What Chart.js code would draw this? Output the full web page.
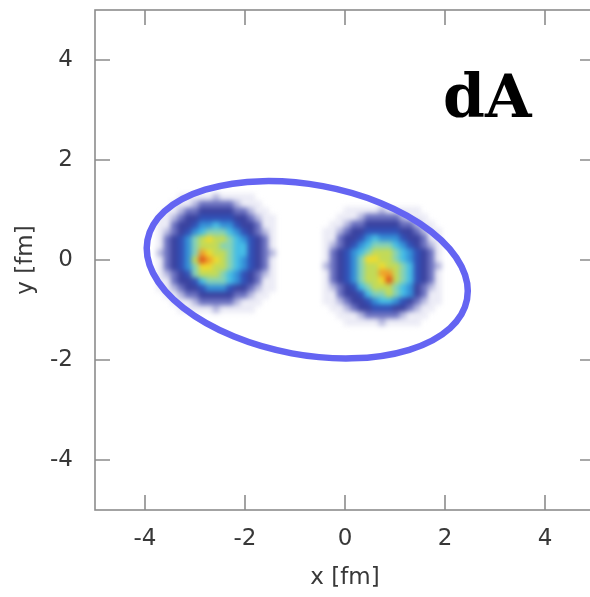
<!DOCTYPE html>
<html>
<head>
<meta charset="utf-8">
<script src="https://cdn.jsdelivr.net/npm/chart.js@4.4.1/dist/chart.umd.min.js"></script>
<style>
  html, body { margin: 0; padding: 0; background: #fff; overflow: hidden; }
</style>
</head>
<body>
<canvas id="myChart" width="600" height="597"></canvas>
<script>
var xTicks = [-4, -2, 0, 2, 4];
var yTicks = [-4, -2, 0, 2, 4];
var panelLabel = "dA";

// density histogram, bins of 0.14 fm
// levels: "." empty, 1..9 rising, Y yellow, O orange, R red
var binSize = 0.14;

var leftBlobCenter = [-2.58, 0.14];
var leftBlob = [
  "...11111211111...",
  "..1112333332111..",
  ".112334444433211.",
  "11234455555443211",
  "11344566766544311",
  "12345678887654321",
  "1345689Y998765431",
  "13456899988775431",
  "234568OY998775432",
  "134569ROY98765431",
  "134568YY998765431",
  "12345899987654321",
  "11344578887654311",
  "11234456665443211",
  ".112334444433211.",
  "..1112333332111..",
  "...11111211111..."
];

var rightBlobCenter = [0.74, -0.12];
var rightBlob = [
  "...11111211111...",
  "..1112333332111..",
  ".112334444433211.",
  "11234455555443211",
  "11344567666544311",
  "12345678887654321",
  "13456789998765431",
  "134568YY998765431",
  "23456899Y99875432",
  "13456899OO9875431",
  "13456899YR9875431",
  "12345789998764321",
  "11344578898764311",
  "11234456776543211",
  ".112344555443211.",
  "..1112333332111..",
  "...11111211111..."
];

// ellipse: centre x, centre y, semi-axes a, b (fm), tilt in degrees
var ellipseShape = [-0.755, -0.195, 3.25, 1.70, -10.5];

var levelColors = {
  "1": "#ececf6",
  "2": "#b6b8df",
  "3": "#6c72c0",
  "4": "#3a429f",
  "5": "#3150b6",
  "6": "#3490d8",
  "7": "#46bde6",
  "8": "#86d2b6",
  "9": "#c2da58",
  "Y": "#efdb2e",
  "O": "#efa02a",
  "R": "#df5418"
};

var axisGray = "#8c8c8c";
var textGray = "#383838";

var densityPlugin = {
  id: "density",
  beforeDatasetsDraw: function (chart) {
    var xs = chart.scales.x;
    var ys = chart.scales.y;
    var off = document.createElement("canvas");
    off.width = chart.width;
    off.height = chart.height;
    var oc = off.getContext("2d");

    [[leftBlob, leftBlobCenter], [rightBlob, rightBlobCenter]].forEach(function (b) {
      var grid = b[0];
      var c = b[1];
      var half = grid.length / 2;
      grid.forEach(function (row, r) {
        for (var i = 0; i < row.length; i++) {
          var lv = row[i];
          if (lv === ".") continue;
          var x0 = c[0] + (i - row.length / 2) * binSize;
          var y0 = c[1] + (half - r) * binSize;
          var px0 = xs.getPixelForValue(x0);
          var px1 = xs.getPixelForValue(x0 + binSize);
          var py0 = ys.getPixelForValue(y0);
          var py1 = ys.getPixelForValue(y0 - binSize);
          oc.fillStyle = levelColors[lv];
          oc.fillRect(px0, py0, px1 - px0 + 0.6, py1 - py0 + 0.6);
        }
      });
    });

    var ctx = chart.ctx;
    var a = chart.chartArea;
    ctx.save();
    ctx.beginPath();
    ctx.rect(a.left, a.top, a.right - a.left, a.bottom - a.top);
    ctx.clip();
    ctx.filter = "blur(2.4px)";
    ctx.drawImage(off, 0, 0, chart.width, chart.height);
    ctx.restore();
  },
  afterDatasetsDraw: function (chart) {
    var ctx = chart.ctx;
    var xs = chart.scales.x;
    var ys = chart.scales.y;
    var cx = xs.getPixelForValue(ellipseShape[0]);
    var cy = ys.getPixelForValue(ellipseShape[1]);
    var rx = xs.getPixelForValue(ellipseShape[0] + ellipseShape[2]) - cx;
    var ry = cy - ys.getPixelForValue(ellipseShape[1] + ellipseShape[3]);
    ctx.save();
    ctx.beginPath();
    ctx.ellipse(cx, cy, rx, ry, -ellipseShape[4] * Math.PI / 180, 0, 2 * Math.PI);
    ctx.lineWidth = 6.5;
    ctx.strokeStyle = "#6464f2";
    ctx.stroke();
    ctx.restore();
  }
};

// box with inward ticks on all four sides, plus the panel tag
var framePlugin = {
  id: "frame",
  afterDraw: function (chart) {
    var ctx = chart.ctx;
    var a = chart.chartArea;
    var xs = chart.scales.x;
    var ys = chart.scales.y;
    var len = 15;
    ctx.save();
    ctx.strokeStyle = axisGray;
    ctx.lineWidth = 1.6;
    ctx.strokeRect(a.left, a.top, a.right - a.left, a.bottom - a.top);
    ctx.beginPath();
    xTicks.forEach(function (v) {
      var px = xs.getPixelForValue(v);
      ctx.moveTo(px, a.bottom);
      ctx.lineTo(px, a.bottom - len);
      ctx.moveTo(px, a.top);
      ctx.lineTo(px, a.top + len);
    });
    yTicks.forEach(function (v) {
      var py = ys.getPixelForValue(v);
      ctx.moveTo(a.left, py);
      ctx.lineTo(a.left + len, py);
      ctx.moveTo(a.right, py);
      ctx.lineTo(a.right - len, py);
    });
    ctx.stroke();

    ctx.fillStyle = "#000";
    ctx.font = "bold 60px 'DejaVu Serif'";
    ctx.textBaseline = "alphabetic";
    ctx.fillText(panelLabel, xs.getPixelForValue(1.96), ys.getPixelForValue(2.86));
    ctx.restore();
  }
};

var tickFont = { family: "DejaVu Sans", size: 23 };

function noPad(s) {
  s.paddingTop = 0;
  s.paddingBottom = 0;
  s.paddingLeft = 0;
  s.paddingRight = 0;
}

var chart = new Chart(document.getElementById("myChart"), {
  type: "scatter",
  data: { datasets: [] },
  options: {
    responsive: false,
    animation: false,
    layout: { padding: { top: 10, right: 5, left: 0, bottom: 0 } },
    plugins: {
      legend: { display: false },
      tooltip: { enabled: false }
    },
    scales: {
      x: {
        type: "linear",
        min: -5,
        max: 5,
        afterBuildTicks: function (s) {
          s.ticks = xTicks.map(function (v) { return { value: v }; });
        },
        afterFit: function (s) { s.height = 87; noPad(s); },
        grid: { display: false, drawTicks: false },
        border: { display: false },
        ticks: { color: textGray, font: tickFont, padding: 15, maxRotation: 0 },
        title: {
          display: true,
          text: "x [fm]",
          color: textGray,
          font: tickFont,
          padding: { top: 0, bottom: 5 }
        }
      },
      y: {
        type: "linear",
        min: -5,
        max: 5,
        afterBuildTicks: function (s) {
          s.ticks = yTicks.map(function (v) { return { value: v }; });
        },
        afterFit: function (s) { s.width = 95; noPad(s); },
        grid: { display: false, drawTicks: false },
        border: { display: false },
        ticks: { color: textGray, font: tickFont, padding: 22 },
        title: {
          display: true,
          text: "y [fm]",
          color: textGray,
          font: tickFont,
          padding: { top: 12, bottom: 0 }
        }
      }
    }
  },
  plugins: [densityPlugin, framePlugin]
});
</script>
</body>
</html>
